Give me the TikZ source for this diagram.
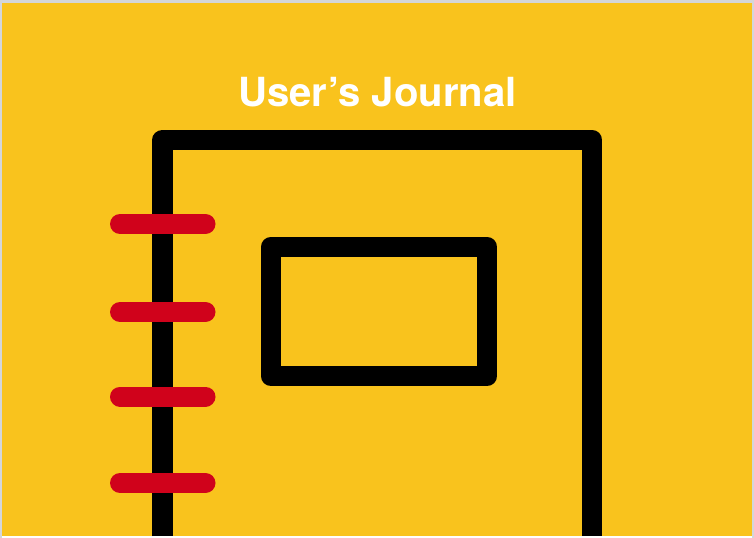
\documentclass[tikz,border=0pt]{standalone}
\usepackage{fontspec}
\setmainfont{TeX Gyre Heros}
\definecolor{pageColor}{HTML}{D4D6D9}
\definecolor{coverColor}{HTML}{F9C31D}
\definecolor{ringColor}{HTML}{D0021B}
\tikzset{
  outline/.style={draw=black, line width=20.5bp, line join=round},
  ring/.style={draw=ringColor, line width=20bp, line cap=round},
}
\def\textTitle{User’s Journal}

\begin{document}
\begin{tikzpicture}[x=1bp,y=-1bp]
\useasboundingbox (0, 0) rectangle (754, 538);

% background
\begin{scope}
\fill[color=white] (0, 0) rectangle (754, 538);
\fill[color=pageColor] (0, 0) rectangle (2, 538);
\fill[color=pageColor] (752, 0) rectangle (754, 538);
\fill[color=pageColor] (0, 0) rectangle (754, 3);
\fill[color=coverColor] (2, 3) rectangle (752, 536);
\end{scope}

% title
\node (title) [anchor=base, text=white, font=\fontsize{40.1bp}{44bp}\selectfont\bfseries, inner sep=0pt] at (377.5, 106.5) {\textTitle};

% cover
\begin{scope}
\draw[outline] (162.5, 536) -- (162.5, 140) -- (592, 140) -- (592, 536);
\end{scope}

% label box
\begin{scope}
\draw[outline] (271, 247) rectangle (487, 376);
\end{scope}

% rings
\begin{scope}
\draw[ring] (120, 224) -- (205.5, 224);
\draw[ring] (120, 312) -- (205.5, 312);
\draw[ring] (120, 396.5) -- (205.5, 396.5);
\draw[ring] (120, 483) -- (205.5, 483);
\end{scope}
\end{tikzpicture}
\end{document}
